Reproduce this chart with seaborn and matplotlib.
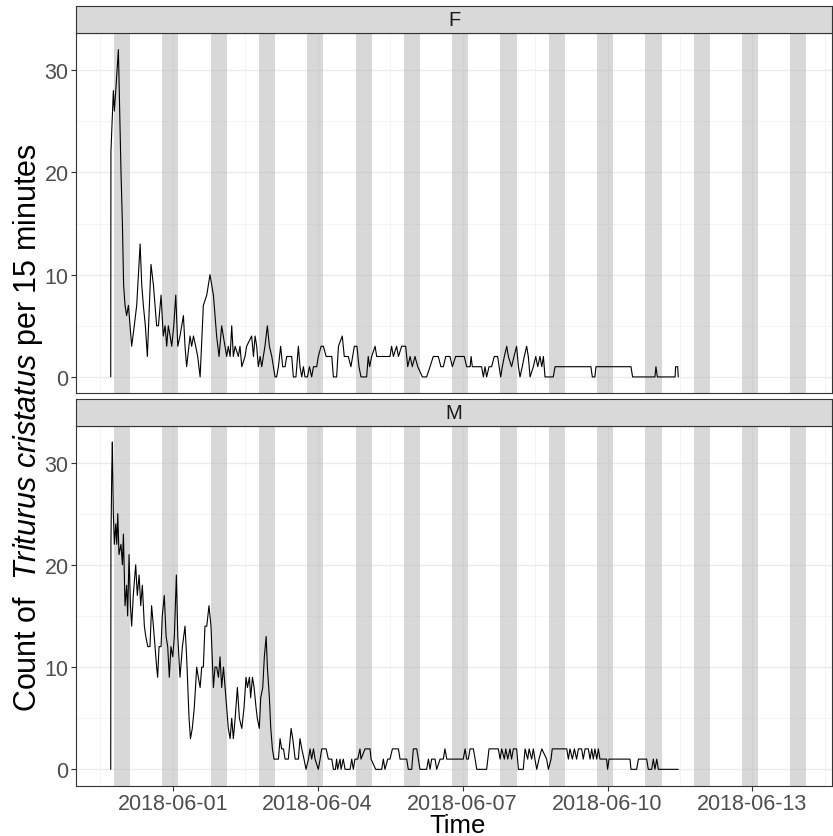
import pandas as pd
import matplotlib
matplotlib.use('Agg')
import matplotlib.pyplot as plt
import matplotlib.dates as mdates
import matplotlib.ticker as mticker
import seaborn as sns

sns.set_theme(style='white')
plt.rcParams['font.family'] = ['Liberation Sans', 'DejaVu Sans']
plt.rcParams['mathtext.fontset'] = 'custom'
plt.rcParams['mathtext.rm'] = 'Liberation Sans'
plt.rcParams['mathtext.it'] = 'Liberation Sans:italic'

start = pd.Timestamp('2018-05-30 17:15')

f_hours = [0, 0.1, 0.5, 1.3, 1.8, 2.5, 3.8, 5.1, 5.8, 6.4,
           7.1, 7.9, 8.8, 9.6, 10.4, 11.7, 12.9, 14.6, 15.4, 16.2,
           17.2, 18.2, 19.2, 20.0, 21.2, 22.0, 22.8, 23.7, 25.0, 26.1,
           27.0, 27.8, 28.6, 29.5, 30.3, 31.3, 32.3, 33.3, 34.4, 36.1,
           36.9, 37.7, 39.4, 40.2, 41.1, 42.2, 43.2, 44.4, 46.0, 47.7,
           49.3, 51.0, 52.6, 53.8, 55.1, 55.9, 57.6, 58.4, 59.3, 60.1,
           60.9, 61.8, 63.4, 64.2, 65.1, 66.7, 67.5, 70.0, 70.9, 71.7,
           72.5, 73.3, 74.2, 75.0, 76.6, 77.8, 78.8, 80.0, 80.8, 81.6,
           82.4, 83.3, 84.4, 85.4, 86.6, 87.4, 89.9, 90.7, 92.0, 93.2,
           94.0, 94.9, 95.7, 96.5, 97.7, 98.7, 99.8, 100.7, 102.3, 103.1,
           104.5, 105.6, 107.0, 109.8, 110.6, 112.2, 113.1, 115.0, 116.0, 118.0,
           119.3, 121.0, 122.3, 123.3, 124.3, 127.1, 127.9, 128.6, 129.6, 131.3,
           132.1, 138.7, 139.5, 140.4, 142.0, 142.9, 144.5, 146.5, 147.5, 148.7,
           149.8, 151.1, 152.5, 154.8, 156.9, 158.6, 160.2, 162.7, 164.0, 165.2,
           166.4, 168.5, 169.7, 171.3, 175.6, 176.8, 178.5, 179.0, 179.6, 184.2,
           185.1, 185.9, 186.7, 187.9, 189.2, 190.5, 192.2, 192.9, 193.7, 194.5,
           195.5, 196.7, 197.5, 199.1, 200.3, 201.6, 202.5, 203.3, 204.4, 205.4,
           206.6, 207.4, 208.3, 209.9, 211.1, 212.1, 213.2, 214.1, 214.9, 215.7,
           219.8, 220.7, 238.5, 239.2, 240.5, 241.0, 258.4, 259.2, 270.3, 270.8,
           271.5, 280.3, 280.6, 281.6, 281.9]
f_counts = [0, 22, 24, 28, 26, 28, 32, 20, 15, 9,
            7, 6, 7, 5, 3, 5, 7, 13, 9, 7,
            5, 2, 7, 11, 9, 7, 5, 5, 8, 4,
            5, 3, 5, 4, 3, 5, 8, 3, 4, 6,
            3, 1, 4, 3, 4, 3, 2, 0, 7, 8,
            10, 8, 4, 2, 5, 4, 2, 3, 2, 5,
            2, 3, 2, 3, 1, 2, 3, 4, 2, 4,
            3, 1, 2, 1, 3, 5, 3, 2, 1, 0,
            0, 1, 3, 1, 1, 2, 2, 0, 0, 3,
            1, 0, 1, 0, 0, 1, 0, 1, 1, 2,
            3, 3, 2, 2, 0, 0, 3, 4, 2, 2,
            1, 3, 3, 1, 0, 0, 2, 1, 2, 3,
            2, 2, 3, 2, 3, 2, 3, 3, 1, 2,
            1, 2, 1, 0, 0, 1, 2, 2, 1, 1,
            2, 2, 1, 2, 2, 1, 1, 2, 1, 1,
            0, 1, 0, 1, 1, 2, 2, 1, 0, 1,
            2, 3, 2, 1, 2, 3, 1, 0, 1, 2,
            3, 2, 0, 1, 2, 1, 2, 1, 2, 0,
            0, 1, 1, 0, 0, 1, 1, 0, 0, 1,
            0, 0, 1, 1, 0]

m_hours = [0, 0.1, 0.5, 0.8, 1.3, 1.8, 2.5, 3.0, 3.5, 4.1,
           5.1, 5.8, 6.3, 7.1, 7.9, 8.4, 9.1, 9.8, 10.4, 11.2,
           12.4, 13.2, 14.1, 14.9, 15.7, 16.7, 17.4, 18.4, 19.5, 20.3,
           21.2, 22.0, 22.8, 23.3, 24.0, 25.0, 25.6, 26.6, 27.5, 28.3,
           29.1, 29.9, 30.8, 31.6, 32.6, 33.3, 34.4, 35.6, 36.9, 37.7,
           38.9, 39.6, 40.5, 41.5, 42.7, 43.5, 44.4, 45.2, 46.0, 46.8,
           47.7, 48.8, 49.8, 51.0, 51.8, 52.6, 53.5, 54.3, 55.1, 56.0,
           56.8, 57.6, 58.4, 59.3, 60.1, 60.9, 61.8, 62.9, 63.9, 65.1,
           66.2, 67.2, 67.9, 68.9, 69.5, 70.4, 71.2, 72.2, 72.8, 73.8,
           74.5, 75.5, 76.3, 77.2, 77.8, 78.8, 79.5, 80.3, 81.1, 83.3,
           84.1, 84.9, 85.8, 86.6, 88.2, 89.6, 90.4, 91.6, 93.2, 94.0,
           94.9, 96.0, 97.0, 98.2, 99.0, 99.8, 100.7, 101.5, 103.1, 104.0,
           104.8, 107.0, 108.1, 109.8, 110.6, 111.6, 112.2, 112.7, 113.9, 114.4,
           115.5, 116.4, 118.9, 119.7, 120.5, 121.3, 122.7, 123.8, 124.3, 126.3,
           128.8, 129.3, 131.6, 134.6, 135.4, 136.2, 137.6, 138.7, 139.9, 142.9,
           143.7, 147.0, 147.8, 149.5, 150.3, 152.0, 152.8, 153.6, 156.9, 157.8,
           158.6, 159.4, 161.1, 161.9, 163.6, 165.2, 166.0, 166.9, 175.1, 176.0,
           176.8, 177.6, 178.5, 180.1, 181.0, 181.8, 186.7, 187.9, 192.5, 193.4,
           194.2, 195.5, 196.2, 197.2, 198.3, 199.1, 200.0, 201.6, 202.5, 204.9,
           205.8, 207.1, 207.8, 209.1, 209.9, 210.7, 211.6, 212.7, 214.1, 216.5,
           217.4, 218.7, 219.3, 220.7, 226.5, 227.3, 228.1, 229.3, 230.3, 231.4,
           232.3, 233.9, 234.7, 235.6, 237.2, 238.1, 238.9, 239.7, 240.5, 241.4,
           242.2, 243.0, 246.3, 246.8, 247.5, 257.9, 258.4, 261.2, 262.1, 266.2,
           267.0, 268.7, 269.5, 270.3, 271.2, 272.0, 281.9]
m_counts = [0, 22, 29, 32, 25, 22, 24, 22, 25, 21,
            22, 20, 23, 16, 18, 15, 21, 16, 14, 17,
            20, 17, 19, 16, 18, 14, 13, 12, 12, 16,
            14, 12, 10, 9, 12, 12, 15, 17, 13, 12,
            9, 12, 11, 13, 19, 13, 9, 12, 14, 11,
            5, 3, 4, 6, 10, 9, 8, 10, 10, 14,
            14, 16, 14, 8, 10, 10, 9, 11, 8, 10,
            8, 6, 4, 3, 5, 3, 5, 8, 5, 4,
            6, 9, 8, 9, 7, 9, 8, 6, 5, 4,
            7, 8, 11, 13, 10, 7, 4, 2, 1, 1,
            3, 2, 2, 1, 1, 4, 3, 1, 1, 3,
            2, 1, 0, 1, 2, 1, 2, 1, 0, 1,
            2, 2, 1, 1, 0, 0, 1, 0, 1, 0,
            1, 0, 0, 1, 0, 1, 1, 2, 1, 2,
            2, 1, 0, 0, 1, 0, 1, 1, 2, 2,
            1, 1, 0, 0, 2, 2, 1, 0, 0, 1,
            0, 1, 1, 0, 1, 1, 2, 1, 1, 2,
            1, 1, 2, 2, 1, 0, 0, 2, 2, 1,
            2, 1, 2, 1, 2, 1, 2, 2, 0, 0,
            2, 1, 2, 1, 2, 1, 0, 1, 2, 1,
            0, 1, 2, 2, 2, 1, 2, 1, 2, 1,
            2, 2, 1, 2, 2, 1, 2, 1, 2, 1,
            2, 1, 1, 0, 1, 1, 0, 0, 1, 1,
            0, 0, 1, 0, 1, 0, 0]

# night periods (sunset), each lasting night_length hours
night_start = ['2018-05-30 18:50', '2018-05-31 18:50', '2018-06-01 18:50',
               '2018-06-02 18:50', '2018-06-03 18:50', '2018-06-04 18:50',
               '2018-06-05 18:50', '2018-06-06 18:50', '2018-06-07 18:50',
               '2018-06-08 18:50', '2018-06-09 18:50', '2018-06-10 18:50',
               '2018-06-11 18:50', '2018-06-12 18:50', '2018-06-13 18:50']
night_length = 8

x_major = ['2018-06-01', '2018-06-04', '2018-06-07', '2018-06-10', '2018-06-13']
x_minor = ['2018-05-30 12:00', '2018-06-02 12:00', '2018-06-05 12:00',
           '2018-06-08 12:00', '2018-06-11 12:00', '2018-06-14 12:00']

df = pd.concat([
    pd.DataFrame({'time': start + pd.to_timedelta(f_hours, unit='h'),
                  'count': f_counts, 'sex': 'F'}),
    pd.DataFrame({'time': start + pd.to_timedelta(m_hours, unit='h'),
                  'count': m_counts, 'sex': 'M'}),
])

W, H = 833, 837
fig = plt.figure(figsize=(W / 100, H / 100), dpi=100)


def box(l, t, r, b):
    return [l / W, 1 - b / H, (r - l) / W, (b - t) / H]


# strip top, panel top, panel bottom (pixels)
layout = {'F': (7.3, 34.3, 394.3), 'M': (400.0, 426.7, 786.7)}
border = '#333333'

for sex, (st, pt, pb) in layout.items():
    ax = fig.add_axes(box(76, pt, 832, pb))
    ax.set_facecolor('white')
    ax.set_axisbelow(True)
    for ns in night_start:
        t0 = pd.Timestamp(ns)
        ax.axvspan(t0, t0 + pd.Timedelta(hours=night_length),
                   color='#BEBEBE', alpha=0.6, lw=0, zorder=1)
    sns.lineplot(data=df[df['sex'] == sex], x='time', y='count', ax=ax,
                 color='black', lw=0.8, estimator=None, sort=False, zorder=3)

    ax.set_xlim(pd.Timestamp('2018-05-30 00:00'), pd.Timestamp('2018-06-14 15:30'))
    ax.set_ylim(-1.6, 33.6)
    ax.xaxis.set_major_locator(mticker.FixedLocator(mdates.date2num(pd.to_datetime(x_major))))
    ax.xaxis.set_minor_locator(mticker.FixedLocator(mdates.date2num(pd.to_datetime(x_minor))))
    ax.xaxis.set_major_formatter(mdates.DateFormatter('%Y-%m-%d'))
    ax.yaxis.set_major_locator(mticker.FixedLocator([0, 10, 20, 30]))
    ax.yaxis.set_minor_locator(mticker.FixedLocator([5, 15, 25]))

    ax.grid(which='major', color='#EBEBEB', lw=1.0)
    ax.grid(which='minor', color='#F2F2F2', lw=0.6)
    ax.tick_params(which='major', length=3.5, width=0.8, color=border,
                   labelsize=15.5, labelcolor='#4D4D4D', pad=1.8,
                   left=True, bottom=True)
    ax.tick_params(which='minor', length=0)
    if sex == 'F':
        ax.tick_params(axis='x', bottom=False, labelbottom=False)
    ax.set_xlabel('')
    ax.set_ylabel('')
    for sp in ax.spines.values():
        sp.set_color(border)
        sp.set_linewidth(0.8)

    strip = fig.add_axes(box(76, st, 832, pt))
    strip.set_facecolor('#D9D9D9')
    strip.set_xticks([])
    strip.set_yticks([])
    for sp in strip.spines.values():
        sp.set_color(border)
        sp.set_linewidth(0.8)
    strip.text(0.5, 0.5, sex, ha='center', va='center', fontsize=14.5,
               color='#1A1A1A', transform=strip.transAxes)

fig.text(28 / W, 1 - 428 / H,
         r'Count of  $\mathit{Triturus\ cristatus}$ per 15 minutes',
         rotation=90, ha='center', va='center', fontsize=22, color='black')
fig.text(458 / W, 1 - 833 / H, 'Time', ha='center', va='baseline',
         fontsize=18.5, color='black')

fig.savefig('out.png', dpi=100)
